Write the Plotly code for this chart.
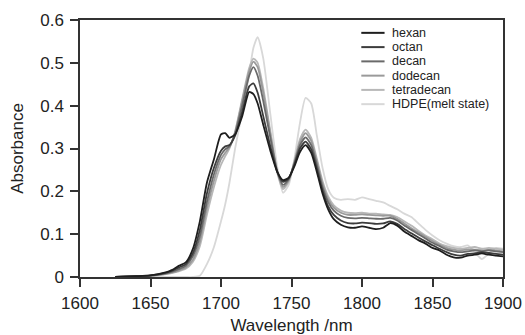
import plotly.graph_objects as go

wavelength = [1625, 1640, 1650, 1660, 1665, 1670, 1675, 1680, 1685, 1690, 1695, 1700, 1703, 1706, 1710,
              1715, 1720, 1723, 1726, 1730, 1735, 1740, 1744, 1748, 1752, 1756, 1760, 1764, 1768, 1772,
              1776, 1780, 1785, 1790, 1795, 1800, 1805, 1810, 1815, 1820, 1825, 1830, 1835, 1840, 1845,
              1850, 1855, 1860, 1865, 1870, 1875, 1880, 1885, 1890, 1895, 1900]

hexan = [0.0, 0.002, 0.004, 0.01, 0.016, 0.026, 0.034, 0.065, 0.13, 0.22, 0.275, 0.333, 0.336, 0.325, 0.333,
         0.375, 0.432, 0.427, 0.405, 0.355, 0.295, 0.245, 0.226, 0.232, 0.258, 0.292, 0.308, 0.29, 0.245, 0.195,
         0.158, 0.135, 0.122, 0.116, 0.115, 0.118, 0.115, 0.112, 0.115, 0.126, 0.12, 0.106, 0.096, 0.086, 0.078,
         0.068, 0.062, 0.052, 0.046, 0.045, 0.05, 0.052, 0.055, 0.052, 0.05, 0.048]
octan = [0.0, 0.002, 0.004, 0.009, 0.014, 0.022, 0.03, 0.055, 0.11, 0.195, 0.255, 0.295, 0.305, 0.308, 0.33,
         0.385, 0.445, 0.452, 0.43, 0.375, 0.305, 0.245, 0.222, 0.23, 0.262, 0.3, 0.316, 0.298, 0.252, 0.202,
         0.165, 0.145, 0.132, 0.126, 0.125, 0.127, 0.126, 0.124, 0.125, 0.13, 0.124, 0.112, 0.102, 0.092, 0.083,
         0.074, 0.066, 0.058, 0.052, 0.05, 0.054, 0.055, 0.058, 0.056, 0.054, 0.052]
decan = [0.0, 0.002, 0.003, 0.008, 0.012, 0.018, 0.026, 0.048, 0.095, 0.175, 0.24, 0.285, 0.298, 0.305, 0.335,
         0.4, 0.47, 0.49, 0.47, 0.41, 0.325, 0.245, 0.215, 0.228, 0.265, 0.308, 0.326, 0.308, 0.262, 0.21,
         0.175, 0.155, 0.143, 0.138, 0.137, 0.138, 0.137, 0.136, 0.136, 0.138, 0.132, 0.12, 0.11, 0.1, 0.09,
         0.08, 0.072, 0.064, 0.06, 0.058, 0.06, 0.062, 0.06, 0.062, 0.06, 0.058]
dodecan = [0.0, 0.002, 0.003, 0.007, 0.01, 0.015, 0.022, 0.04, 0.082, 0.16, 0.225, 0.275, 0.29, 0.303, 0.338,
           0.41, 0.48, 0.503, 0.49, 0.43, 0.335, 0.245, 0.21, 0.225, 0.268, 0.315, 0.336, 0.318, 0.27, 0.218,
           0.182, 0.162, 0.15, 0.145, 0.145, 0.146, 0.145, 0.144, 0.143, 0.143, 0.136, 0.125, 0.114, 0.104, 0.094,
           0.084, 0.075, 0.068, 0.064, 0.062, 0.064, 0.064, 0.062, 0.064, 0.062, 0.06]
tetradecan = [0.0, 0.001, 0.002, 0.006, 0.009, 0.013, 0.019, 0.035, 0.072, 0.145, 0.21, 0.262, 0.282, 0.3, 0.34,
              0.415, 0.488, 0.51, 0.5, 0.44, 0.34, 0.242, 0.205, 0.222, 0.27, 0.322, 0.344, 0.325, 0.276, 0.224,
              0.188, 0.167, 0.155, 0.15, 0.149, 0.15, 0.148, 0.148, 0.146, 0.145, 0.14, 0.13, 0.12, 0.108, 0.097,
              0.088, 0.078, 0.072, 0.068, 0.066, 0.068, 0.07, 0.066, 0.068, 0.066, 0.064]
hdpe = [0.0, 0.0, 0.0, 0.0, 0.0, 0.0, 0.0, 0.0, 0.003, 0.03, 0.07, 0.13, 0.17, 0.22, 0.3,
        0.385, 0.475, 0.535, 0.56, 0.51, 0.38, 0.255, 0.197, 0.215, 0.275, 0.36, 0.418, 0.405, 0.33, 0.255,
        0.205, 0.185, 0.18, 0.182, 0.18, 0.186, 0.182, 0.178, 0.174, 0.166, 0.158, 0.148, 0.14, 0.125, 0.11,
        0.097, 0.086, 0.078, 0.072, 0.07, 0.074, 0.058, 0.042, 0.055, 0.068, 0.066]

names = ["hexan", "octan", "decan", "dodecan", "tetradecan", "HDPE(melt state)"]
series = [hexan, octan, decan, dodecan, tetradecan, hdpe]
colors = ["#1e1e1e", "#3c3c3c", "#6a6a6a", "#9a9a9a", "#b8b8b8", "#d8d8d8"]

x_ticks = [1600, 1650, 1700, 1750, 1800, 1850, 1900]
y_ticks = [0, 0.1, 0.2, 0.3, 0.4, 0.5, 0.6]
y_labels = ["0", "0.1", "0.2", "0.3", "0.4", "0.5", "0.6"]

fig = go.Figure()
for name, vals, col in reversed(list(zip(names, series, colors))):
    fig.add_trace(go.Scatter(x=wavelength, y=vals, mode="lines", name=name,
                             line=dict(color=col, width=1.8, shape="spline", smoothing=0.6),
                             showlegend=False))

# custom compact legend
leg_x0, leg_x1, leg_text_x = 0.665, 0.72, 0.735
leg_top, leg_step = 0.950, 0.0555
for i, (name, col) in enumerate(zip(names, colors)):
    yy = leg_top - i * leg_step
    fig.add_shape(type="line", xref="paper", yref="paper", x0=leg_x0, x1=leg_x1, y0=yy, y1=yy,
                  line=dict(color=col, width=2))
    fig.add_annotation(xref="paper", yref="paper", x=leg_text_x, y=yy, text=name, showarrow=False,
                       xanchor="left", yanchor="middle", borderpad=0,
                       font=dict(size=12.5, color="#222"))

axis_common = dict(showline=True, linecolor="#333", linewidth=1.5, mirror=True, showgrid=False,
                   zeroline=False, ticks="outside", tickcolor="#333", tickwidth=1.5, ticklen=8,
                   automargin=False, tickfont=dict(size=17, color="#222"))
fig.update_xaxes(range=[1600, 1900], tickvals=x_ticks, ticklabelstandoff=2,
                 title=dict(text="Wavelength /nm", font=dict(size=17, color="#222"), standoff=10),
                 **axis_common)
fig.update_yaxes(range=[0, 0.6], tickvals=y_ticks, ticktext=y_labels, ticklabelstandoff=3,
                 title=dict(text="Absorbance", font=dict(size=17, color="#222"), standoff=12),
                 **axis_common)
fig.update_layout(width=525, height=335, margin=dict(l=80, r=22, t=20, b=58),
                  plot_bgcolor="white", paper_bgcolor="white",
                  font=dict(family="Liberation Sans, Arial, sans-serif"))
fig.write_html("out.html")
